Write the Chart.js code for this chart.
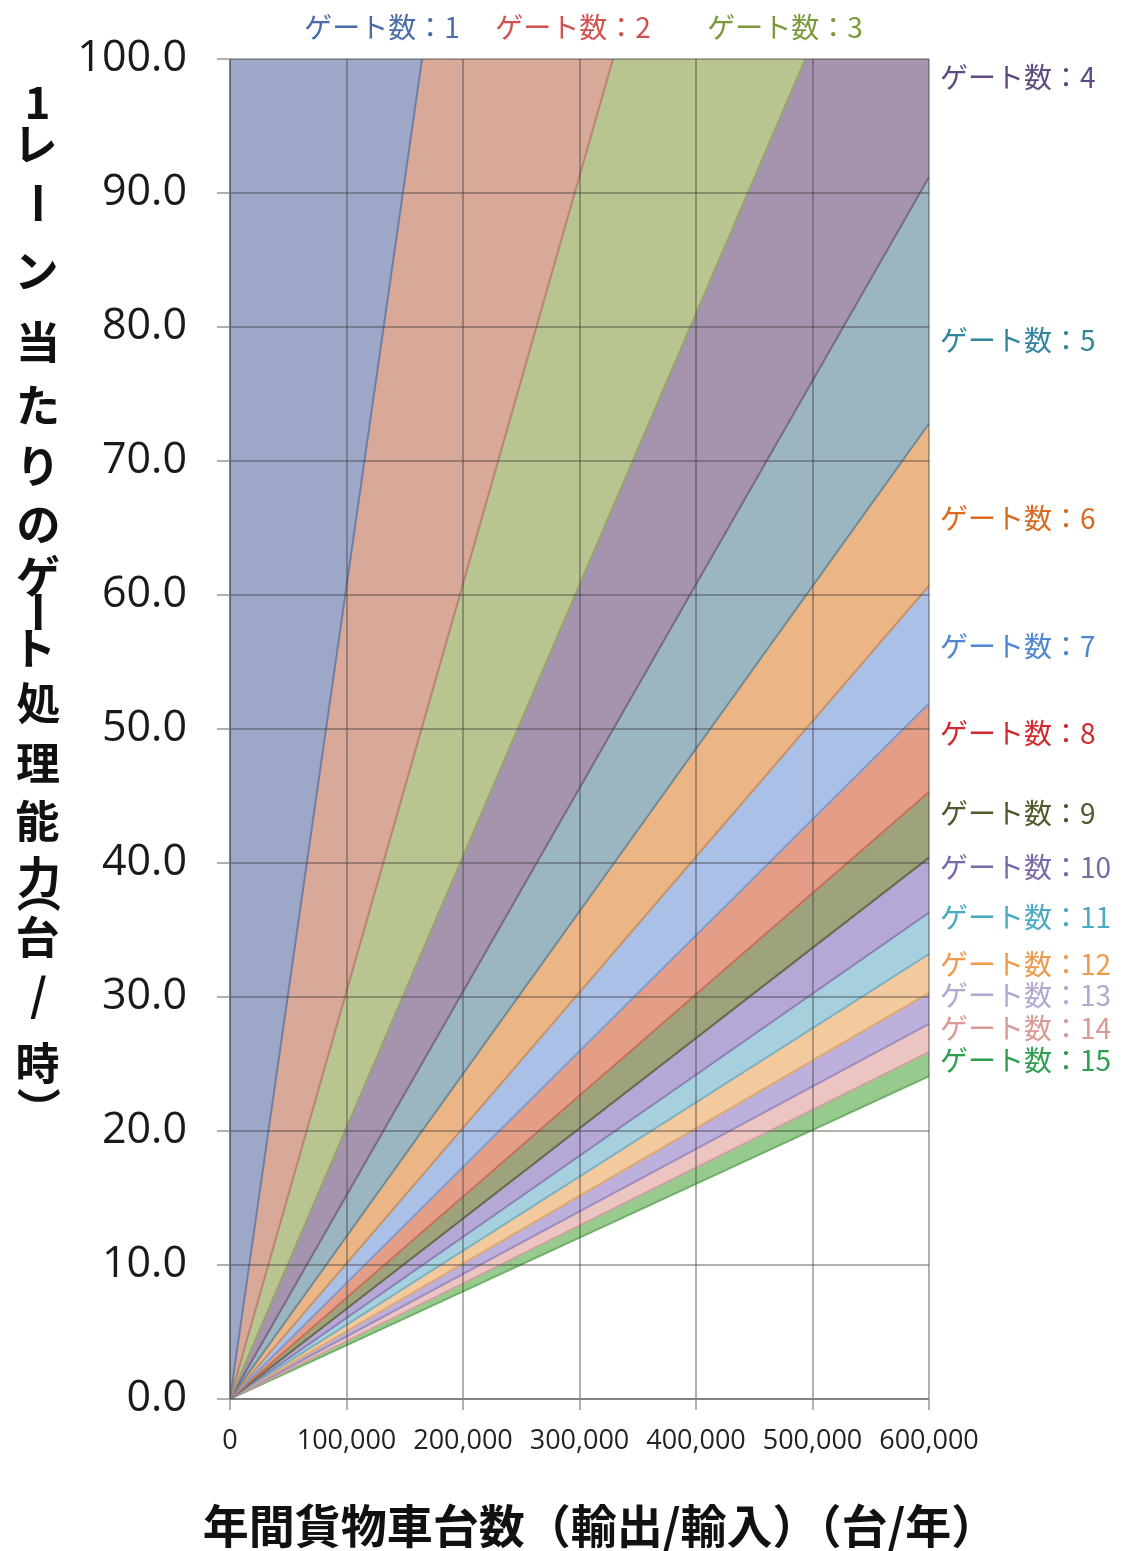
<!DOCTYPE html>
<html>
<head>
<meta charset="utf-8">
<script src="https://cdn.jsdelivr.net/npm/chart.js@4.4.1/dist/chart.umd.min.js"></script>
<style>
  html, body { margin: 0; padding: 0; background: #ffffff; }
  #wrap { width: 1123px; height: 1551px; position: relative; }
  canvas { display: block; }
</style>
</head>
<body>
<div id="wrap"><canvas id="c" width="1123" height="1551"></canvas></div>
<script>
// ---- data ----
const gateCounts = [1, 2, 3, 4, 5, 6, 7, 8, 9, 10, 11, 12, 13, 14, 15];
// value (台/時) of each gate's lower boundary line at 600,000 台/年 (lines start at origin)
const lineValueAt600k = [364, 182.5, 121.5, 91.2, 72.8, 60.7, 51.9, 45.3, 40.4, 36.3, 33.2, 30.3, 28.0, 25.9, 24.1];
const xStart = 0;
const xEnd = 600000;
const xTickValues = [0, 100000, 200000, 300000, 400000, 500000, 600000];
const yTickValues = [0, 10, 20, 30, 40, 50, 60, 70, 80, 90, 100];
const gateLabels = gateCounts.map(n => 'ゲート数：' + n);
const xTitle = '年間貨物車台数（輸出/輸入）（台/年）';
const yTitle = '1レーン当たりのゲート処理能力（台/時）';

// ---- styles ----
const bandColors = ['#9DA8C9', '#D8A898', '#B9C590', '#A694AE', '#9BB5C1', '#ECB586', '#AAC0E6',
  '#E49E88', '#9EA27D', '#B6A8D6', '#A6D0DE', '#F3CA9E', '#BEB0DC', '#ECC4C2', '#96CB8D'];
const lineColors = ['#6F7EA5', '#B98474', '#97A56C', '#7A6886', '#6D8C9A', '#C99263', '#7E9CCB',
  '#C86F55', '#666B48', '#8E7FB6', '#7DB0C2', '#DDAA74', '#9C8DC0', '#D2A09E', '#6FAF67'];
const labelColors = ['#4A6CA8', '#D0514E', '#7A9A3C', '#5E4A7E', '#31859C', '#D9691E', '#4F86D0',
  '#D02A30', '#4F5A2A', '#7B68A8', '#4AAAC4', '#EE9A4A', '#B4A6D2', '#D99A95', '#2DA050'];
// label positions: gates 1-3 above the plot (center x), others at the right (center y)
const topLabelX = [382, 573, 785];
const rightLabelY = [77, 340, 518, 646, 733, 813, 867, 917, 964, 995, 1028, 1060];
const yTitleCharY = [103, 145, 203, 272, 342, 405, 466, 525, 575, 612, 648, 703, 763, 820, 877, 905, 937, 997, 1062, 1095];

const datasets = gateCounts.map((n, i) => ({
  label: gateLabels[i],
  data: [{ x: xStart, y: 0 }, { x: xEnd, y: lineValueAt600k[i] }],
  backgroundColor: bandColors[i],
  borderColor: lineColors[i],
  borderWidth: 2,
  pointRadius: 0,
  fill: i === 0 ? 'end' : '-1',
  tension: 0
}));

const gridColor = 'rgba(60,60,60,0.40)';
const jp = '"Noto Sans CJK JP", "Noto Sans", sans-serif';

const textPlugin = {
  id: 'texts',
  afterDraw(chart) {
    const ctx = chart.ctx;
    const area = chart.chartArea;
    ctx.save();
    // gate labels
    ctx.font = '28px ' + jp;
    ctx.textBaseline = 'middle';
    for (let i = 0; i < gateLabels.length; i++) {
      ctx.fillStyle = labelColors[i];
      if (i < 3) {
        ctx.textAlign = 'center';
        ctx.fillText(gateLabels[i], topLabelX[i], 27);
      } else {
        ctx.textAlign = 'left';
        ctx.fillText(gateLabels[i], area.right + 11, rightLabelY[i - 3]);
      }
    }
    // x title
    ctx.fillStyle = '#111';
    ctx.font = 'bold 46px ' + jp;
    ctx.textAlign = 'center';
    ctx.fillText(xTitle, 600, 1526);
    // y title, vertical, characters upright (ー and brackets turned)
    ctx.font = 'bold 44px ' + jp;
    ctx.textAlign = 'left';
    ctx.textBaseline = 'alphabetic';
    const chars = Array.from(yTitle);
    chars.forEach((ch, k) => {
      const cx = 38, cy = yTitleCharY[k];
      const m = ctx.measureText(ch);
      const ix = (m.actualBoundingBoxRight - m.actualBoundingBoxLeft) / 2;
      const iy = (m.actualBoundingBoxDescent - m.actualBoundingBoxAscent) / 2;
      ctx.save();
      ctx.translate(cx, cy);
      if (ch === 'ー' || ch === '（' || ch === '）') ctx.rotate(Math.PI / 2);
      ctx.fillText(ch, -ix, -iy);
      ctx.restore();
    });
    ctx.restore();
  }
};

new Chart(document.getElementById('c'), {
  type: 'line',
  data: { datasets },
  options: {
    responsive: false,
    animation: false,
    devicePixelRatio: 1,
    layout: { padding: { top: 59, right: 194, left: 0, bottom: 0 } },
    plugins: { legend: { display: false }, tooltip: { enabled: false } },
    elements: { line: { tension: 0 }, point: { radius: 0 } },
    scales: {
      x: {
        type: 'linear',
        min: xStart,
        max: xEnd,
        afterBuildTicks: s => { s.ticks = xTickValues.map(v => ({ value: v })); },
        afterFit: s => { s.height = 152; },
        ticks: {
          color: '#222',
          font: { family: '"Open Sans", sans-serif', size: 27 },
          padding: 15,
          maxRotation: 0,
          autoSkip: false,
          callback: v => v.toLocaleString('en-US')
        },
        grid: { color: gridColor, lineWidth: 2, tickLength: 11, z: 1 },
        border: { color: gridColor, width: 2, z: 1 }
      },
      y: {
        type: 'linear',
        min: 0,
        max: 100,
        afterBuildTicks: s => { s.ticks = yTickValues.map(v => ({ value: v })); },
        afterFit: s => { s.width = 230; },
        ticks: {
          color: '#1a1a1a',
          font: { family: '"Open Sans", sans-serif', size: 43 },
          padding: 30,
          autoSkip: false,
          callback: v => Number(v).toFixed(1)
        },
        grid: { color: gridColor, lineWidth: 2, tickLength: 13, z: 1 },
        border: { color: gridColor, width: 2, z: 1 }
      }
    }
  },
  plugins: [textPlugin]
});
</script>
</body>
</html>
